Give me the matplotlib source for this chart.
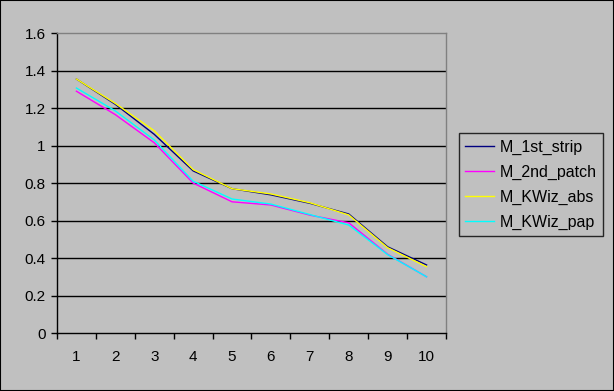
import matplotlib.pyplot as plt
import numpy as np

plt.rcParams['font.family'] = ['Liberation Sans', 'DejaVu Sans']

# categories along x
cats = [1, 2, 3, 4, 5, 6, 7, 8, 9, 10]

# series values
m_1st_strip = [1.355, 1.22, 1.06, 0.865, 0.77, 0.737, 0.692, 0.635, 0.46, 0.363]
m_2nd_patch = [1.29, 1.165, 1.015, 0.80, 0.70, 0.683, 0.629, 0.588, 0.42, 0.30]
m_kwiz_abs = [1.355, 1.225, 1.079, 0.872, 0.77, 0.742, 0.695, 0.63, 0.455, 0.354]
m_kwiz_pap = [1.307, 1.185, 1.03, 0.81, 0.715, 0.688, 0.632, 0.576, 0.418, 0.30]

names = ["M_1st_strip", "M_2nd_patch", "M_KWiz_abs", "M_KWiz_pap"]
colors = ["#000080", "#FF00FF", "#FFFF00", "#00FFFF"]

bg = "#C0C0C0"
fig = plt.figure(figsize=(6.14, 3.91), dpi=100, facecolor=bg)
ax = fig.add_axes([0.0928, 0.1483, 0.6336, 0.767], facecolor=bg)

for vals, name, c in zip([m_1st_strip, m_2nd_patch, m_kwiz_abs, m_kwiz_pap], names, colors):
    ax.plot(cats, vals, color=c, lw=1.0, label=name)

ax.set_xlim(0.5, 10.5)
ax.set_ylim(0, 1.6)
ax.set_yticks(np.arange(0, 1.61, 0.2))
ax.set_yticklabels(["0", "0.2", "0.4", "0.6", "0.8", "1", "1.2", "1.4", "1.6"])
ax.set_xticks(cats)
ax.set_xticks(np.arange(0.5, 10.6, 1), minor=True)
ax.tick_params(axis='x', which='major', length=0, pad=12, labelsize=11)
ax.tick_params(axis='x', which='minor', length=4, width=1, color='black', direction='out')
ax.tick_params(axis='y', length=4, width=1, color='black', direction='out', pad=4, labelsize=11)

for y in np.arange(0.2, 1.5, 0.2):
    ax.axhline(y, color='black', lw=1.0, zorder=0)

ax.spines['left'].set_color('black')
ax.spines['bottom'].set_color('black')
ax.spines['top'].set_color('#808080')
ax.spines['right'].set_color('#808080')
for s in ax.spines.values():
    s.set_linewidth(1.0)

leg = ax.legend(loc='upper left', bbox_to_anchor=(459 / 614, 1 - 133 / 391),
                bbox_transform=fig.transFigure, frameon=True, fancybox=False,
                fontsize=11.5, handlelength=1.8, handletextpad=0.35,
                labelspacing=0.62, borderpad=0.4, borderaxespad=0)
leg.get_frame().set_facecolor(bg)
leg.get_frame().set_edgecolor('black')
leg.get_frame().set_linewidth(1.0)

# outer black border
fig.patches.append(plt.Rectangle((0, 0), 1, 1, transform=fig.transFigure,
                                 fill=False, edgecolor='black', lw=1.5))

fig.savefig('out.png', dpi=100, facecolor=bg)
